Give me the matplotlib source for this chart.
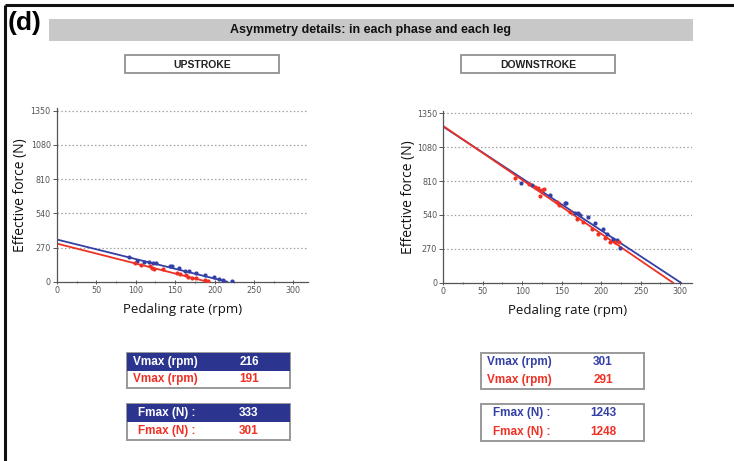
import matplotlib
matplotlib.use("Agg")
import matplotlib.pyplot as plt
from matplotlib.patches import Rectangle
import numpy as np

# ---- data -------------------------------------------------------------
up_blue_rpm = [91, 101, 110, 117, 122, 126, 143, 146, 155, 163, 167, 177, 188, 199, 206, 211, 222]
up_blue_force = [192, 163, 155, 153, 150, 150, 126, 124, 105, 87, 82, 66, 50, 34, 24, 13, 2]
up_red_rpm = [99, 107, 118, 120, 123, 134, 152, 156, 164, 166, 171, 177, 188, 192]
up_red_force = [150, 132, 124, 110, 97, 103, 66, 58, 50, 39, 32, 26, 13, 5]

down_blue_rpm = [99, 112, 135, 154, 156, 167, 171, 173, 183, 192, 202, 208, 215, 220, 224]
down_blue_force = [792, 778, 699, 635, 633, 558, 553, 539, 521, 478, 425, 388, 346, 340, 274]
down_red_rpm = [91, 108, 116, 120, 125, 127, 123, 144, 147, 161, 169, 177, 188, 196, 205, 211, 218, 222]
down_red_force = [832, 786, 765, 752, 739, 744, 691, 645, 619, 566, 505, 486, 425, 388, 354, 327, 327, 327]

up_vmax = [216, 191]      # blue, red
up_fmax = [333, 301]
down_vmax = [301, 291]
down_fmax = [1243, 1248]

x_ticks = [0, 50, 100, 150, 200, 250, 300]
y_ticks = [0, 270, 540, 810, 1080, 1350]

BLUE = "#3340a6"
RED = "#ee3124"
NAVY = "#2b3590"

W, H = 734, 461
fig = plt.figure(figsize=(W / 100, H / 100), dpi=100)

# ---- page decoration drawn in pixel coordinates -------------------------
deco = fig.add_axes([0, 0, 1, 1])
deco.set_xlim(0, W)
deco.set_ylim(H, 0)
deco.axis("off")

deco.plot([4.5, W], [5.5, 5.5], color="#111111", lw=2.2, solid_capstyle="butt")
deco.plot([4.5, 4.5], [5.5, H], color="#111111", lw=2.2, solid_capstyle="butt")

deco.add_patch(Rectangle((49, 19), 644, 22, facecolor="#c8c8c8", edgecolor="none"))
deco.text(371, 30.5, "Asymmetry details: in each phase and each leg", ha="center", va="center",
          fontsize=9, fontweight="bold", family="Liberation Sans", color="#111111")
deco.text(8, 23, "(d)", ha="left", va="center", fontsize=19, fontweight="bold",
          family="Liberation Sans", color="#000000")

for x0, label in [(125, "UPSTROKE"), (461, "DOWNSTROKE")]:
    deco.add_patch(Rectangle((x0, 55), 154, 18, facecolor="white", edgecolor="#888888", lw=1.2))
    deco.text(x0 + 77, 64.5, label, ha="center", va="center", fontsize=7.5, fontweight="bold",
              family="Liberation Sans", color="#222222")


def value_box(x0, y0, w, h, rows, header_fill):
    deco.add_patch(Rectangle((x0, y0), w, h, facecolor="white", edgecolor="#999999", lw=1.4))
    rh = h / 2
    for i, (lab, val, col) in enumerate(rows):
        yc = y0 + rh * (i + 0.5)
        tcol = col
        if header_fill and i == 0:
            deco.add_patch(Rectangle((x0, y0), w, rh, facecolor=NAVY, edgecolor="none"))
            tcol = "white"
        deco.text(x0 + lab[1], yc, lab[0], ha="left", va="center", fontsize=8.5,
                  fontweight="bold", family="Liberation Sans", color=tcol)
        deco.text(x0 + 122, yc, str(val), ha="center", va="center", fontsize=8.5,
                  fontweight="bold", family="Liberation Sans", color=tcol)


value_box(127, 353, 163, 35, [(("Vmax (rpm)", 6), up_vmax[0], BLUE),
                              (("Vmax (rpm)", 6), up_vmax[1], RED)], True)
value_box(127, 404, 163, 36, [(("Fmax (N) :", 11), up_fmax[0], BLUE),
                              (("Fmax (N) :", 11), up_fmax[1], RED)], True)
value_box(481, 353, 163, 36, [(("Vmax (rpm)", 6), down_vmax[0], BLUE),
                              (("Vmax (rpm)", 6), down_vmax[1], RED)], False)
value_box(481, 404, 163, 37, [(("Fmax (N) :", 12), down_fmax[0], BLUE),
                              (("Fmax (N) :", 12), down_fmax[1], RED)], False)


# ---- force-velocity panels ------------------------------------------------
def fv_panel(rect, xmax, blue_pts, red_pts, vmax, fmax, ylab_x):
    ax = fig.add_axes(rect)
    ax.patch.set_alpha(0)
    ax.set_xlim(0, xmax)
    ax.set_ylim(0, 1368)
    for v in y_ticks[1:]:
        ax.axhline(v, color="#a0a0a0", lw=0.9, ls=(0, (1.2, 1.8)), zorder=0)
    for (vx, fy), v0, f0, col in [(blue_pts, vmax[0], fmax[0], BLUE),
                                  (red_pts, vmax[1], fmax[1], RED)]:
        ax.plot([0, v0], [f0, 0], color=col, lw=1.3, zorder=2)
        ax.plot(vx, fy, "o", color=col, ms=3, mew=0, zorder=3)
    ax.set_xticks(x_ticks)
    ax.set_yticks(y_ticks)
    ax.set_xticks(np.arange(25, 325, 50), minor=True)
    ax.tick_params(axis="both", which="major", labelsize=5.8, labelcolor="#555555",
                   length=3, width=0.7, color="#555555", pad=1.5)
    ax.tick_params(axis="x", which="both", direction="inout")
    ax.tick_params(axis="x", which="minor", length=2, width=0.6, color="#555555")
    for s in ("top", "right"):
        ax.spines[s].set_visible(False)
    for s in ("left", "bottom"):
        ax.spines[s].set_color("#555555")
        ax.spines[s].set_linewidth(0.9)
    ax.set_xlabel("Pedaling rate (rpm)", fontsize=9.5, family="Open Sans", color="#111111",
                  labelpad=6)
    ax.set_ylabel("Effective force (N)", fontsize=10, family="Open Sans", color="#111111")
    ax.yaxis.set_label_coords(ylab_x, 0.5)
    return ax


fv_panel([57 / W, 1 - 281.7 / H, 250.5 / W, (281.7 - 108.5) / H], 318,
         (up_blue_rpm, up_blue_force), (up_red_rpm, up_red_force),
         up_vmax, up_fmax, -29 / 250.5)
fv_panel([443.3 / W, 1 - 282.7 / H, 248.6 / W, (282.7 - 111) / H], 315,
         (down_blue_rpm, down_blue_force), (down_red_rpm, down_red_force),
         down_vmax, down_fmax, -27 / 248.6)

fig.savefig("out.png", dpi=100)
